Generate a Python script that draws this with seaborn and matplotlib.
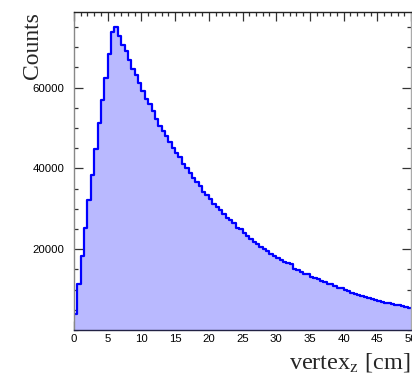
import numpy as np
import pandas as pd
import matplotlib
matplotlib.use("Agg")
import matplotlib.pyplot as plt
from matplotlib.ticker import MultipleLocator
import seaborn as sns

# ---- data (bin counts, 0.5 cm bins from 0 to 50 cm) ----
n_bins = 100
x_range = (0, 50)
counts = [
    3950, 11300, 18350, 25360, 32100, 38300, 44870, 51200, 57000, 62400,
    68200, 73700, 75100, 72700, 70600, 69100, 66700, 64600, 63100, 61100,
    59100, 57200, 56000, 54200, 52300, 50600, 49200, 48000, 46500, 45100,
    43900, 42700, 41200, 40100, 38900, 37700, 36600, 35600, 34200, 33300,
    32400, 31300, 30500, 29800, 28800, 27700, 27200, 26400, 25350, 24900,
    24100, 23200, 22400, 21800, 21200, 20600, 20000, 19500, 18800, 18400,
    17900, 17300, 16800, 16600, 16300, 15200, 14800, 14400, 13800, 13800,
    13200, 12900, 12500, 12200, 11900, 11500, 11300, 10900, 10500, 10300,
    9800, 9550, 9200, 8900, 8600, 8400, 8200, 8000, 7700, 7400,
    7200, 7000, 6800, 6600, 6400, 6200, 6100, 5900, 5600, 5400,
]
x_ticks = [0, 5, 10, 15, 20, 25, 30, 35, 40, 45, 50]
y_ticks = [20000, 40000, 60000]
x_label = r"vertex$_\mathrm{z}$ [cm]"
y_label = "Counts"

bin_edges = np.linspace(x_range[0], x_range[1], n_bins + 1)
centers = (bin_edges[:-1] + bin_edges[1:]) / 2
df = pd.DataFrame({"vertex_z": centers, "counts": counts})

sns.set_style("ticks")
plt.rcParams["font.family"] = ["Liberation Sans", "DejaVu Sans"]
plt.rcParams["mathtext.fontset"] = "stix"

fig = plt.figure(figsize=(4.12, 3.76), dpi=100)
ax = fig.add_axes([74 / 412, 46 / 376, 337 / 412, 318 / 376])

sns.histplot(data=df, x="vertex_z", weights="counts", bins=n_bins,
             binrange=x_range, element="step", fill=True, color="#b9b9ff",
             alpha=1.0, linewidth=0, ax=ax)
sns.histplot(data=df, x="vertex_z", weights="counts", bins=n_bins,
             binrange=x_range, element="step", fill=False, color="#0000ff",
             linewidth=1.6, ax=ax)

ax.set_xlim(0, 50)
ax.set_ylim(0, 78700)
ax.set_xticks(x_ticks)
ax.set_xticklabels([str(v) for v in x_ticks])
ax.set_yticks(y_ticks)
ax.set_yticklabels([str(v) for v in y_ticks])
ax.xaxis.set_minor_locator(MultipleLocator(1))
ax.yaxis.set_minor_locator(MultipleLocator(5000))

ax.tick_params(which="both", direction="in", top=True, right=True,
               color="#333333", labelsize=8.2, labelcolor="black", width=0.9)
ax.tick_params(which="major", length=6.5)
ax.tick_params(which="minor", length=3.2)
ax.tick_params(axis="y", which="major", pad=7)
ax.tick_params(axis="x", which="major", pad=3)

for side, col in [("left", "#888888"), ("right", "#aaaaaa"),
                  ("top", "#222222"), ("bottom", "#222244")]:
    ax.spines[side].set_color(col)
    ax.spines[side].set_linewidth(1.0)
    ax.spines[side].set_visible(True)

ax.set_xlabel(x_label, loc="right", fontsize=17.5, family="Liberation Serif")
ax.xaxis.set_label_coords(1.0, -0.1195)
ax.xaxis.label.set_verticalalignment("baseline")
ax.set_ylabel(y_label, loc="top", fontsize=17, family="Liberation Serif")
ax.yaxis.set_label_coords(-0.092, 1.0)

fig.savefig("out.png", dpi=100)
